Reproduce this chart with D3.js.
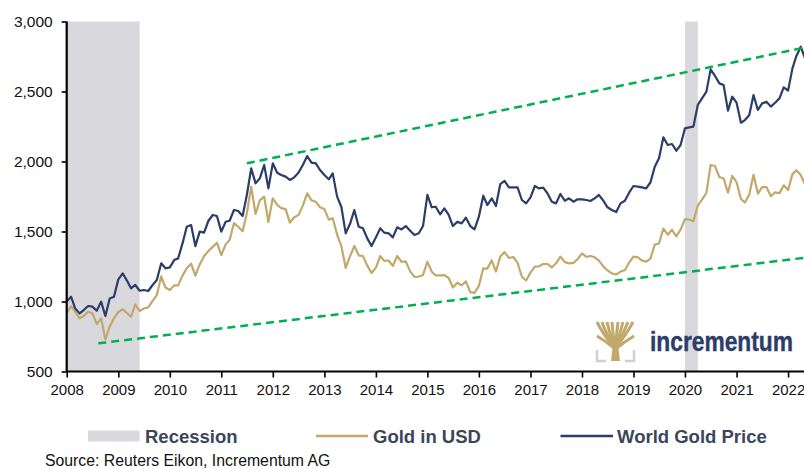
<!DOCTYPE html>
<html>
<head>
<meta charset="utf-8">
<script src="https://cdn.jsdelivr.net/npm/d3@7/dist/d3.min.js"></script>
<style>
body { margin: 0; background: #fff; }
svg { display: block; font-family: Arial, "Liberation Sans", sans-serif; }
</style>
</head>
<body>
<div id="chart"></div>
<script>
// monthly values, Jan 2008 .. May 2022
var startMonth = new Date(2008, 0, 1);

var goldUSD = [
    916, 967, 927, 880, 896, 927, 916, 839, 880, 730, 820, 880,
    925, 945, 920, 891, 980, 932, 950, 958, 1005, 1045, 1180, 1100,
    1082, 1115, 1115, 1185, 1237, 1270, 1185, 1265, 1325, 1360, 1390, 1420,
    1332, 1408, 1439, 1560, 1534, 1502, 1630, 1820, 1625, 1722, 1749, 1568,
    1737, 1690, 1667, 1660, 1563, 1602, 1617, 1685, 1773, 1722, 1712, 1673,
    1660, 1585, 1595, 1478, 1396, 1240, 1322, 1396, 1330, 1324, 1256, 1204,
    1242, 1325, 1290, 1293, 1254, 1325, 1284, 1286, 1215, 1176, 1178, 1190,
    1284, 1213, 1186, 1186, 1189, 1168, 1100, 1134, 1116, 1144, 1067, 1062,
    1112, 1237, 1235, 1294, 1214, 1321, 1353, 1311, 1318, 1277, 1177, 1150,
    1206, 1249, 1251, 1268, 1268, 1243, 1273, 1321, 1281, 1272, 1276, 1302,
    1344, 1319, 1325, 1316, 1292, 1251, 1222, 1201, 1193, 1214, 1223, 1278,
    1320, 1315, 1294, 1284, 1306, 1406, 1414, 1521, 1477, 1512, 1466, 1514,
    1588, 1584, 1574, 1685, 1728, 1777, 1975, 1968, 1889, 1879, 1777, 1897,
    1852, 1732, 1707, 1765, 1905, 1771, 1817, 1817, 1752, 1780, 1774, 1830,
    1796, 1910, 1938, 1904, 1835
];

var worldGold = [
    1000, 1034, 951, 915, 939, 968, 963, 934, 999, 896, 1022, 1034,
    1158, 1201, 1153, 1094, 1118, 1077, 1082, 1075, 1118, 1153, 1273, 1237,
    1244, 1296, 1308, 1415, 1534, 1546, 1396, 1499, 1492, 1575, 1618, 1611,
    1499, 1570, 1577, 1654, 1646, 1611, 1761, 1951, 1844, 1880, 1975, 1808,
    1987, 1920, 1904, 1892, 1868, 1887, 1920, 1975, 2039, 1992, 1987, 1939,
    1904, 1873, 1915, 1749, 1677, 1487, 1553, 1653, 1534, 1523, 1451, 1396,
    1458, 1523, 1492, 1487, 1458, 1530, 1515, 1539, 1506, 1475, 1487, 1539,
    1761, 1673, 1677, 1623, 1665, 1618, 1539, 1570, 1558, 1599, 1539, 1515,
    1606, 1756, 1689, 1737, 1682, 1839, 1861, 1815, 1815, 1815, 1725, 1701,
    1744, 1825, 1808, 1813, 1773, 1713, 1701, 1768, 1720, 1737, 1713, 1730,
    1730, 1725, 1718, 1737, 1761, 1720, 1673, 1654, 1639, 1701, 1720, 1777,
    1825, 1820, 1815, 1808, 1850, 1963, 2023, 2173, 2118, 2125, 2077, 2118,
    2237, 2244, 2249, 2404, 2451, 2499, 2658, 2611, 2558, 2546, 2363, 2463,
    2420, 2277, 2296, 2332, 2475, 2368, 2415, 2427, 2392, 2420, 2451, 2530,
    2506, 2665, 2754, 2820, 2737
];

var recessions = [["2007-12-01", "2009-06-01"], ["2020-01-01", "2020-04-01"]];
var upperTrend = [["2011-07-01", 1987], ["2022-04-10", 2810]];
var lowerTrend = [["2008-08-12", 701], ["2022-05-01", 1313]];
var yTicks = [500, 1000, 1500, 2000, 2500, 3000];
var xTickYears = d3.range(2008, 2023);
var legendNames = ["Recession", "Gold in USD", "World Gold Price"];
var sourceText = "Source: Reuters Eikon, Incrementum AG";

var width = 804, height = 469;
var plotLeft = 66.7, plotTop = 21.5, plotBottom = 371.5, plotRight = 805;

var parse = d3.timeParse("%Y-%m-%d");
var x = d3.scaleTime()
    .domain([startMonth, new Date(2022, 4, 1)])
    .range([plotLeft, plotRight]);
var y = d3.scaleLinear()
    .domain([500, 3000])
    .range([plotBottom, plotTop]);

var svg = d3.select("#chart").append("svg")
    .attr("width", width)
    .attr("height", height);

svg.append("defs").append("clipPath")
    .attr("id", "plotClip")
    .append("rect")
    .attr("x", plotLeft)
    .attr("y", 0)
    .attr("width", width - plotLeft)
    .attr("height", plotBottom + 2);

var plot = svg.append("g").attr("clip-path", "url(#plotClip)");

// recession bands
plot.selectAll(".rec")
    .data(recessions)
    .enter().append("rect")
    .attr("class", "rec")
    .attr("x", function (d) { return x(d3.max([parse(d[0]), startMonth])); })
    .attr("width", function (d) { return x(parse(d[1])) - x(d3.max([parse(d[0]), startMonth])); })
    .attr("y", y(3000))
    .attr("height", y(500) - y(3000))
    .attr("fill", "#d9d8dc");

var seriesGold = goldUSD.map(function (v, i) { return [d3.timeMonth.offset(startMonth, i), v]; });
var seriesWorld = worldGold.map(function (v, i) { return [d3.timeMonth.offset(startMonth, i), v]; });

var line = d3.line()
    .x(function (d) { return x(d[0]); })
    .y(function (d) { return y(d[1]); });

var trendLine = d3.line()
    .x(function (d) { return x(parse(d[0])); })
    .y(function (d) { return y(d[1]); });

plot.append("path")
    .attr("d", line(seriesGold))
    .attr("fill", "none")
    .attr("stroke", "#c3a86c")
    .attr("stroke-width", 2.2)
    .attr("stroke-linejoin", "round");

plot.append("path")
    .attr("d", line(seriesWorld))
    .attr("fill", "none")
    .attr("stroke", "#2b3d69")
    .attr("stroke-width", 2.2)
    .attr("stroke-linejoin", "round");

[upperTrend, lowerTrend].forEach(function (t) {
    plot.append("path")
        .attr("d", trendLine(t))
        .attr("fill", "none")
        .attr("stroke", "#00b04f")
        .attr("stroke-width", 2.5)
        .attr("stroke-dasharray", "8,5");
});

// axes
var yAxis = svg.append("g")
    .attr("transform", "translate(" + plotLeft + ",0)")
    .call(d3.axisLeft(y).tickValues(yTicks).tickSize(5).tickPadding(9).tickFormat(d3.format(",")));
var xAxis = svg.append("g")
    .attr("transform", "translate(0," + plotBottom + ")")
    .call(d3.axisBottom(x).tickValues(xTickYears.map(function (yr) { return new Date(yr, 0, 1); }))
        .tickSize(6).tickPadding(7).tickFormat(d3.timeFormat("%Y")));

[yAxis, xAxis].forEach(function (a) {
    a.select(".domain").attr("stroke", "#000").attr("stroke-width", 2.2);
    a.selectAll(".tick line").attr("stroke", "#000").attr("stroke-width", 1.6);
    a.selectAll("text").attr("fill", "#111").style("font-size", "15.5px");
});
xAxis.selectAll("text").style("font-size", "15px");
yAxis.select(".domain").attr("d", "M0," + plotTop + "V" + plotBottom);
xAxis.select(".domain").attr("d", "M" + plotLeft + ",0H" + width);

// logo
var logo = svg.append("g").attr("transform", "translate(597,322)");
var branchTops = [0, 5, 10, 15, 21, 26, 31, 36];
branchTops.forEach(function (bx) {
    logo.append("path")
        .attr("d", "M18,26 Q" + (bx * 0.6 + 7) + ",14 " + bx + ",0")
        .attr("fill", "none")
        .attr("stroke", "#c3a86c")
        .attr("stroke-width", 3);
});
logo.append("path")
    .attr("d", "M14,39 L16,22 L21,22 L23,39 Z")
    .attr("fill", "#c3a86c");
logo.append("path")
    .attr("d", "M0,14 Q10,20 17,26 M37,14 Q27,20 20,26")
    .attr("fill", "none")
    .attr("stroke", "#c3a86c")
    .attr("stroke-width", 3);
logo.append("path")
    .attr("d", "M0,28 V39 H9 M37,28 V39 H28")
    .attr("fill", "none")
    .attr("stroke", "#cfcfcf")
    .attr("stroke-width", 2.5);
svg.append("text")
    .attr("x", 650)
    .attr("y", 351)
    .attr("textLength", 143)
    .attr("lengthAdjust", "spacingAndGlyphs")
    .attr("fill", "#2b3d69")
    .attr("stroke", "#2b3d69")
    .attr("stroke-width", 0.4)
    .style("font-size", "27px")
    .style("font-weight", "bold")
    .text("incrementum");

// legend
var legend = svg.append("g").style("font-size", "18.5px").style("font-weight", "bold");
legend.append("rect")
    .attr("x", 88).attr("y", 430.5)
    .attr("width", 51.5).attr("height", 11)
    .attr("fill", "#d9d8dc");
legend.append("line")
    .attr("x1", 316).attr("x2", 368).attr("y1", 436).attr("y2", 436)
    .attr("stroke", "#c3a86c").attr("stroke-width", 2.5);
legend.append("line")
    .attr("x1", 560.5).attr("x2", 613).attr("y1", 436).attr("y2", 436)
    .attr("stroke", "#2b3d69").attr("stroke-width", 2.5);
var legendX = [145, 373, 617];
legendNames.forEach(function (n, i) {
    legend.append("text")
        .attr("x", legendX[i])
        .attr("y", 442.5)
        .attr("fill", "#3b4658")
        .text(n);
});

svg.append("text")
    .attr("x", 45)
    .attr("y", 466)
    .attr("fill", "#111")
    .style("font-size", "15.8px")
    .text(sourceText);
</script>
</body>
</html>
